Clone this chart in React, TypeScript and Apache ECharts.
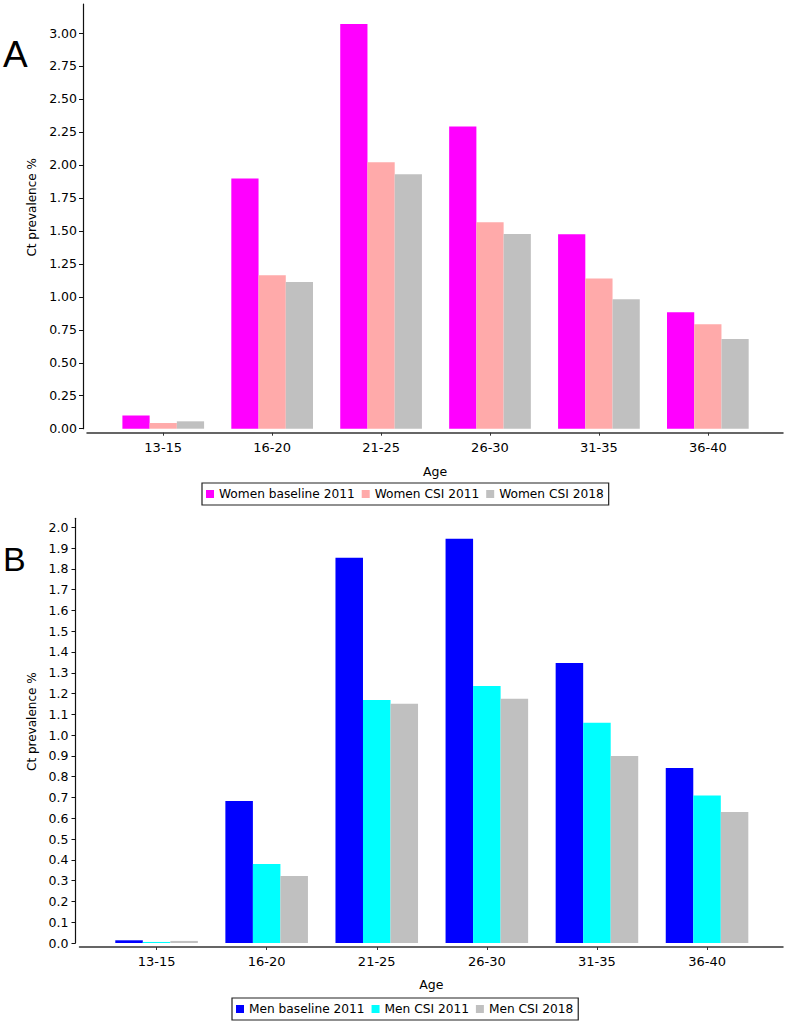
import React, { useEffect, useRef } from "react";
import * as echarts from "echarts";

const ageGroups = ["13-15", "16-20", "21-25", "26-30", "31-35", "36-40"];

const womenBaseline2011 = [0.1, 1.897, 3.068, 2.291, 1.475, 0.883];
const womenCSI2011 = [0.043, 1.164, 2.021, 1.566, 1.138, 0.792];
const womenCSI2018 = [0.056, 1.113, 1.93, 1.477, 0.982, 0.681];

const menBaseline2011 = [0.013, 0.683, 1.853, 1.945, 1.347, 0.842];
const menCSI2011 = [0.005, 0.38, 1.169, 1.236, 1.06, 0.709];
const menCSI2018 = [0.01, 0.322, 1.151, 1.175, 0.899, 0.63];

const womenTicks = [0, 0.25, 0.5, 0.75, 1.0, 1.25, 1.5, 1.75, 2.0, 2.25, 2.5, 2.75, 3.0];
const menTicks = [0, 0.1, 0.2, 0.3, 0.4, 0.5, 0.6, 0.7, 0.8, 0.9, 1.0, 1.1, 1.2, 1.3, 1.4, 1.5, 1.6, 1.7, 1.8, 1.9, 2.0];

const womenNames = ["Women baseline 2011", "Women CSI 2011", "Women CSI 2018"];
const menNames = ["Men baseline 2011", "Men CSI 2011", "Men CSI 2018"];
const womenColors = ["#FF00FF", "#FFAAAA", "#C0C0C0"];
const menColors = ["#0000FF", "#00FFFF", "#C0C0C0"];

const FONT = "DejaVu Sans";

export default function App() {
  const ref = useRef<HTMLDivElement>(null);

  useEffect(() => {
    document.body.style.margin = "0";
    document.body.style.overflow = "hidden";
    const chart = echarts.init(ref.current as HTMLDivElement, null, { renderer: "svg" });
    const categoryIndex = ageGroups.map((_, i) => i);

    const bar = (name: string, values: number[], color: string, idx: number) => ({
      type: "bar",
      name,
      xAxisIndex: idx,
      yAxisIndex: idx,
      data: values.map((v, i) => [i, v]),
      barGap: "0%",
      barCategoryGap: "25%",
      itemStyle: { color },
      emphasis: { disabled: true },
    });

    const xAxis = (idx: number, nameGap: number) => ({
      gridIndex: idx,
      type: "value",
      min: -0.7,
      max: 5.69,
      offset: 4,
      axisLine: { show: true, onZero: false, lineStyle: { color: "#333", width: 1.5 } },
      axisTick: { show: true, length: 3, customValues: categoryIndex, lineStyle: { color: "#333" } },
      axisLabel: {
        customValues: categoryIndex,
        formatter: (v: number) => ageGroups[Math.round(v)] ?? "",
        margin: 8,
        fontFamily: FONT,
        fontSize: 13,
        color: "#000",
      },
      splitLine: { show: false },
      name: "Age",
      nameLocation: "middle",
      nameGap,
      nameTextStyle: { fontFamily: FONT, fontSize: 12.5, color: "#000" },
    });

    const yAxis = (idx: number, max: number, ticks: number[], digits: number, nameGap: number, margin: number) => ({
      gridIndex: idx,
      type: "value",
      min: 0,
      max,
      offset: 4,
      axisLine: { show: true, onZero: false, lineStyle: { color: "#111", width: 1.2 } },
      axisTick: { show: true, length: 4, customValues: ticks, lineStyle: { color: "#111" } },
      axisLabel: {
        customValues: ticks,
        formatter: (v: number) => v.toFixed(digits),
        margin,
        fontFamily: FONT,
        fontSize: 12.5,
        color: "#000",
      },
      splitLine: { show: false },
      name: "Ct prevalence %",
      nameLocation: "middle",
      nameRotate: 90,
      nameGap,
      nameTextStyle: { fontFamily: FONT, fontSize: 12, color: "#000", padding: [0, 0, 0, 18] },
    });

    const legend = (names: string[], left: number, top: number) => ({
      data: names,
      left,
      top,
      orient: "horizontal",
      icon: "rect",
      itemWidth: 8,
      itemHeight: 8,
      itemGap: 7,
      padding: [5, 5, 5, 4],
      borderColor: "#222",
      borderWidth: 1.2,
      selectedMode: false,
      itemStyle: { borderWidth: 0 },
      textStyle: { fontFamily: FONT, fontSize: 12.2, color: "#000" },
    });

    chart.setOption({
      animation: false,
      backgroundColor: "#fff",
      grid: [
        { left: 87, right: 4, top: 4, height: 424.7, containLabel: false },
        { left: 79.5, right: 4, top: 518.3, height: 424.7, containLabel: false },
      ],
      xAxis: [xAxis(0, 32), xAxis(1, 31)],
      yAxis: [yAxis(0, 3.22, womenTicks, 2, 44, 6), yAxis(1, 2.043, menTicks, 1, 36, 7)],
      legend: [legend(womenNames, 202, 483), legend(menNames, 232, 998)],
      series: [
        bar(womenNames[0], womenBaseline2011, womenColors[0], 0),
        bar(womenNames[1], womenCSI2011, womenColors[1], 0),
        bar(womenNames[2], womenCSI2018, womenColors[2], 0),
        bar(menNames[0], menBaseline2011, menColors[0], 1),
        bar(menNames[1], menCSI2011, menColors[1], 1),
        bar(menNames[2], menCSI2018, menColors[2], 1),
      ],
      graphic: [
        {
          type: "text",
          left: 3,
          top: 36,
          style: { text: "A", fontFamily: "Liberation Sans", fontSize: 37, fill: "#000" },
        },
        {
          type: "text",
          left: 3,
          top: 542,
          style: { text: "B", fontFamily: "Liberation Sans", fontSize: 34, fill: "#000" },
        },
      ],
    });

    return () => chart.dispose();
  }, []);

  return <div ref={ref} style={{ width: 787, height: 1025 }} />;
}
